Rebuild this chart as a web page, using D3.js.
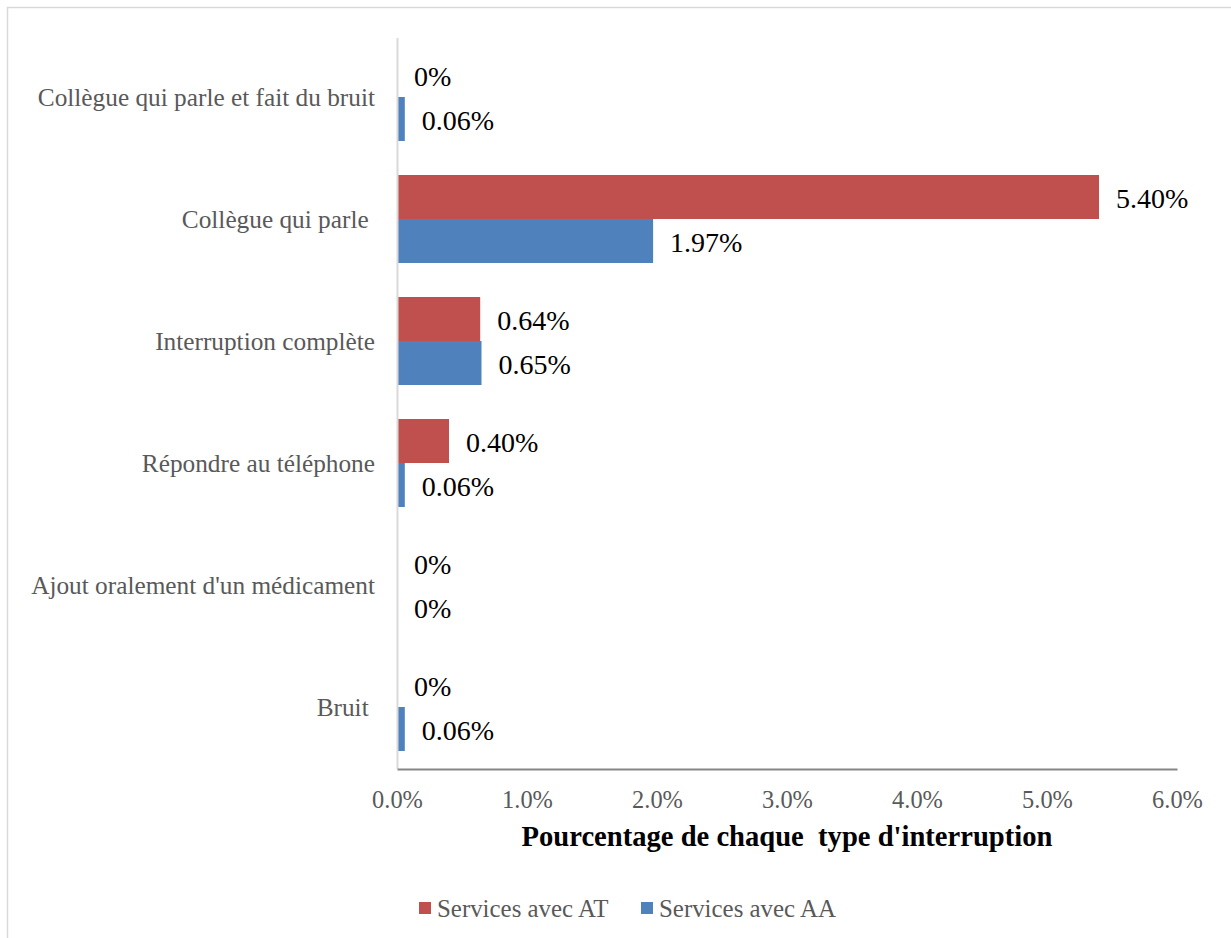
<!DOCTYPE html>
<html>
<head>
<meta charset="utf-8">
<script src="https://cdn.jsdelivr.net/npm/d3@7"></script>
<style>
  html, body { margin: 0; padding: 0; background: #fff; }
  svg { display: block; }
  text { font-family: "Liberation Serif", "DejaVu Serif", serif; }
</style>
</head>
<body>
<svg id="chart" width="1231" height="938"></svg>
<script>
// Interruption types, top to bottom
const categories = [
  "Collègue qui parle et fait du bruit",
  "Collègue qui parle ",
  "Interruption complète",
  "Répondre au téléphone",
  "Ajout oralement d'un médicament",
  "Bruit "
];
// Percentages per interruption type
const servicesAT = [0, 5.40, 0.64, 0.40, 0, 0];
const servicesAA = [0.06, 1.97, 0.65, 0.06, 0, 0.06];
const seriesNames = ["Services avec AT", "Services avec AA"];
const seriesColors = ["#C0504D", "#4F81BD"];
const xTicks = [0, 1, 2, 3, 4, 5, 6];

const svg = d3.select("#chart");

// outer chart frame
svg.append("rect")
  .attr("x", 7.5).attr("y", 7.5)
  .attr("width", 1240).attr("height", 940)
  .attr("fill", "none").attr("stroke", "#D9D9D9").attr("stroke-width", 1.5);

const x = d3.scaleLinear().domain([0, 6]).range([397, 1177]);
const y = d3.scaleBand().domain(categories).range([36, 768]);
const barH = 44;

const rows = categories.map((c, i) => ({ cat: c, values: [servicesAT[i], servicesAA[i]] }));

const g = svg.append("g");

rows.forEach(r => {
  const mid = y(r.cat) + y.bandwidth() / 2;
  r.values.forEach((v, k) => {
    const top = mid - barH + k * barH;
    if (v > 0) {
      g.append("rect")
        .attr("x", x(0)).attr("y", top)
        .attr("width", x(v) - x(0)).attr("height", barH)
        .attr("fill", seriesColors[k]);
    }
    g.append("text")
      .attr("x", x(v) + 17)
      .attr("y", top + barH / 2 + 1)
      .attr("dy", "0.35em")
      .attr("font-size", 28)
      .attr("fill", "#000")
      .text(v === 0 ? "0%" : v.toFixed(2) + "%");
  });
});

// category labels
svg.append("g").selectAll("text").data(categories).join("text")
  .attr("x", 375)
  .attr("y", d => y(d) + y.bandwidth() / 2)
  .attr("dy", "0.35em")
  .attr("text-anchor", "end")
  .attr("font-size", 25.3)
  .attr("fill", "#595959")
  .style("white-space", "pre")
  .text(d => d);

// vertical axis line
svg.append("line")
  .attr("x1", 397.5).attr("x2", 397.5)
  .attr("y1", 38).attr("y2", 769)
  .attr("stroke", "#D9D9D9").attr("stroke-width", 2);

// horizontal axis
const xAxis = d3.axisBottom(x).tickValues(xTicks)
  .tickFormat(d => d.toFixed(1) + "%").tickSize(0).tickPadding(0);
const ax = svg.append("g").attr("transform", "translate(0,769)").call(xAxis);
ax.select(".domain").attr("stroke", "#868686").attr("stroke-width", 2);
ax.selectAll(".tick text")
  .attr("y", 39)
  .attr("dy", 0)
  .attr("font-size", 24.4)
  .attr("font-family", "Liberation Serif, DejaVu Serif, serif")
  .attr("fill", "#595959");

// axis title
svg.append("text")
  .attr("x", 787).attr("y", 846)
  .attr("text-anchor", "middle")
  .attr("font-size", 28.6)
  .attr("font-weight", "bold")
  .attr("fill", "#000")
  .style("white-space", "pre")
  .text("Pourcentage de chaque  type d'interruption");

// legend
const legendX = [419, 641];
seriesNames.forEach((n, k) => {
  svg.append("rect")
    .attr("x", legendX[k]).attr("y", 902)
    .attr("width", 12).attr("height", 12)
    .attr("fill", seriesColors[k]);
  svg.append("text")
    .attr("x", legendX[k] + 18).attr("y", 908)
    .attr("dy", "0.35em")
    .attr("font-size", 24.9)
    .attr("fill", "#595959")
    .text(n);
});
</script>
</body>
</html>
